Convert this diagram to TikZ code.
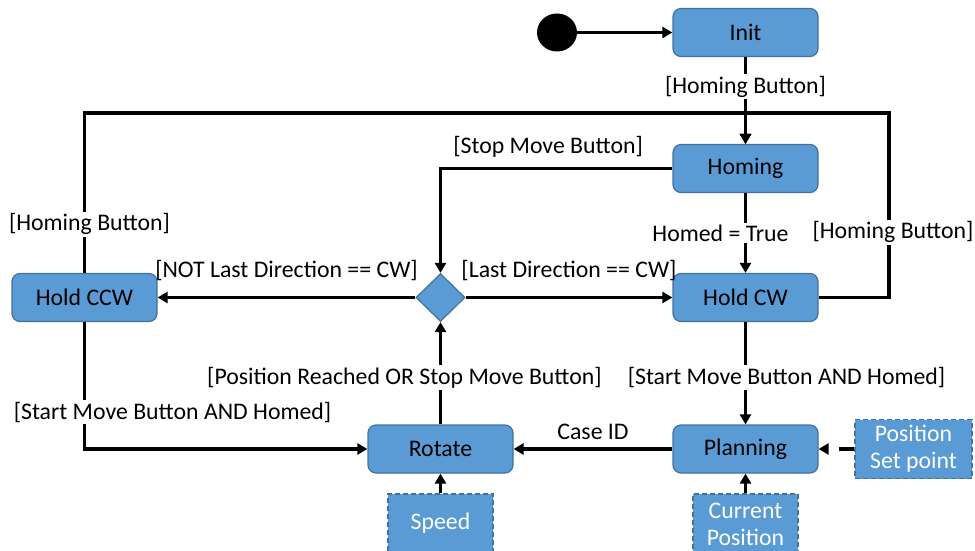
\documentclass[tikz,border=0pt]{standalone}
\usepackage{fontspec}
\setmainfont{Carlito}
\usetikzlibrary{arrows.meta,shapes.geometric}
\definecolor{boxblue}{HTML}{5B9BD5}
\definecolor{boxedge}{HTML}{41719C}
\begin{document}
\begin{tikzpicture}[x=1pt,y=-1pt,
 font=\fontsize{23.8}{27}\selectfont,
 state/.style={draw=boxedge, line width=1.2pt, fill=boxblue, rounded corners=8pt, minimum width=145pt, minimum height=48pt, inner sep=0pt},
 datum/.style={draw=boxedge, line width=1.2pt, dash pattern=on 5pt off 3pt, fill=boxblue, text=white, align=center, inner sep=0pt},
 conn/.style={line width=3.8pt, -{Triangle[length=10pt,width=11pt]}},
 lbl/.style={fill=white, inner sep=2pt},
 ]
\useasboundingbox (0,0) rectangle (975,551);
\node[ellipse, fill=black, minimum width=40pt, minimum height=38pt, inner sep=0pt] (start) at (557,32.5) {};
\node[state] (init) at (745.5,32.5) {Init};
\node[state] (homing) at (745.5,168.5) {Homing};
\node[state] (hcw) at (745.5,297.5) {Hold CW};
\node[state] (plan) at (745.5,449) {Planning};
\node[state] (rot) at (440.5,449) {Rotate};
\node[state] (hccw) at (84.5,297.5) {Hold CCW};
\node[diamond, draw=boxedge, line width=1.2pt, fill=boxblue, minimum width=49pt, minimum height=48pt, inner sep=0pt] (dec) at (440.5,297.5) {};
\node[datum, minimum width=105pt, minimum height=58pt] (speed) at (440.5,523) {Speed};
\node[datum, minimum width=105pt, minimum height=60pt] (curpos) at (745.5,524) {Current\\Position};
\node[datum, minimum width=117pt, minimum height=59pt] (setp) at (913.5,449) {Position\\Set point};
\coordinate (tl) at (84.5,113);
\coordinate (tr) at (889,113);
\draw[conn] (start) -- (init);
\draw[conn] (init) -- node[lbl, pos=0.34]{[Homing Button]} (homing);
\draw[conn] (hccw.north) -- node[lbl,pos=0.304,xshift=5pt]{[Homing Button]} (tl) -- (homing.north |- tl) -- (homing.north);
\draw[conn] (hcw.east) -- (hcw.east -| tr) -- node[lbl,pos=0.353,xshift=4pt]{[Homing Button]} (tr) -- (homing.north |- tr) -- (homing.north);
\draw[conn] (homing.west) -| node[pos=0.268, above=6pt]{[Stop Move Button]} (dec.north);
\draw[conn] (homing) -- node[lbl,xshift=-25pt]{Homed = True} (hcw);
\draw[conn] (dec) -- node[above=12pt]{[Last Direction == CW]} (hcw);
\draw[conn] (dec) -- node[above=12pt]{[NOT Last Direction == CW]} (hccw);
\draw[conn] (hcw) -- node[lbl,pos=0.54,xshift=41pt]{[Start Move Button AND Homed]} (plan);
\draw[conn] (hccw.south) |- node[lbl,pos=0.355,xshift=88pt]{[Start Move Button AND Homed]} (rot.west);
\draw[conn] (rot) -- node[lbl,pos=0.46,xshift=-36pt]{[Position Reached OR Stop Move Button]} (dec);
\draw[conn] (plan) -- node[above=4pt]{Case ID} (rot);
\draw[conn, dash pattern=on 15pt off 12pt on 30pt] (setp) -- (plan);
\draw[conn] (speed) -- (rot);
\draw[conn] (curpos) -- (plan);
\end{tikzpicture}
\end{document}
